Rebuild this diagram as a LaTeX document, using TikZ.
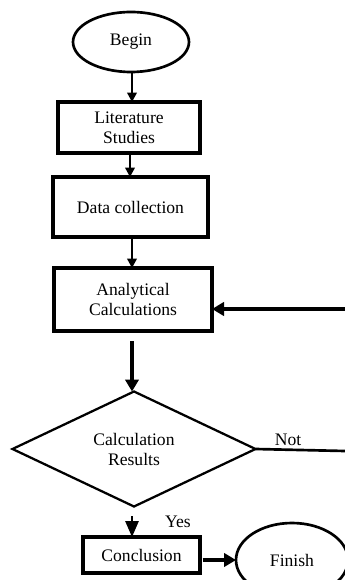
\documentclass[tikz,border=0pt]{standalone}
\usepackage{fontspec}
\setmainfont{Liberation Serif}
\usetikzlibrary{shapes.geometric,arrows.meta}
\begin{document}
\begin{tikzpicture}[x=0.75pt,y=-0.75pt,
  every node/.style={font=\fontsize{13.2pt}{15pt}\selectfont, align=center, outer sep=0pt, inner sep=0pt},
  term/.style={ellipse, draw, line width=2pt},
  procbox/.style={rectangle, draw, line width=2.6pt},
  decision/.style={diamond, draw, line width=1.7pt},
  arr/.style={line width=2pt, -{Triangle[length=7pt,width=7pt]}},
  bigarr/.style={line width=3.2pt, -{Triangle[length=9pt,width=10pt]}},
  plain/.style={line width=2pt}]
\useasboundingbox (0,0) rectangle (345,580);
\clip (0,0) rectangle (345,580);
\node[term, minimum width=87pt, minimum height=45pt] (begin) at (131,42) {Begin};
\node[procbox, minimum width=106.5pt, minimum height=38.25pt] (lit) at (129,127.5) {Literature\\Studies};
\node[procbox, minimum width=116.25pt, minimum height=45pt] (data) at (130.5,207) {Data collection};
\node[procbox, minimum width=118.5pt, minimum height=47.25pt] (anal) at (133,299.5) {Analytical\\Calculations};
\node[decision, minimum width=182.25pt, minimum height=86.25pt] (dec) at (134,449) {Calculation\\Results};
\node[procbox, minimum width=87.75pt, minimum height=27pt] (concl) at (141.5,555) {Conclusion};
\node[term, minimum width=84pt, minimum height=55.5pt] (finish) at (292,560) {Finish};
\node (notlbl) at (288,440) {Not};
\node (yeslbl) at (178,522) {Yes};
\coordinate (rin) at (345,309);
\coordinate (rout) at (345,451);
\coordinate (ystart) at (132,516);
\coordinate (tstart) at (132,341);
\draw[arr] (begin.south -| 132,0) -- (lit.north -| 132,0);
\draw[arr] (lit.south -| 130,0) -- (data.north -| 130,0);
\draw[arr] (data.south -| 132,0) -- (anal.north -| 132,0);
\draw[bigarr] (tstart) -- (dec.north -| tstart);
\draw[bigarr] (rin) -- (anal.east |- rin);
\draw[plain] (dec.east) -- (rout);
\draw[line width=1.4pt, -{Triangle[length=12pt,width=10pt]}] (ystart) -- (concl.north -| ystart);
\draw[bigarr] ([xshift=2pt]concl.east |- finish.west) -- (finish.west);
\end{tikzpicture}
\end{document}
